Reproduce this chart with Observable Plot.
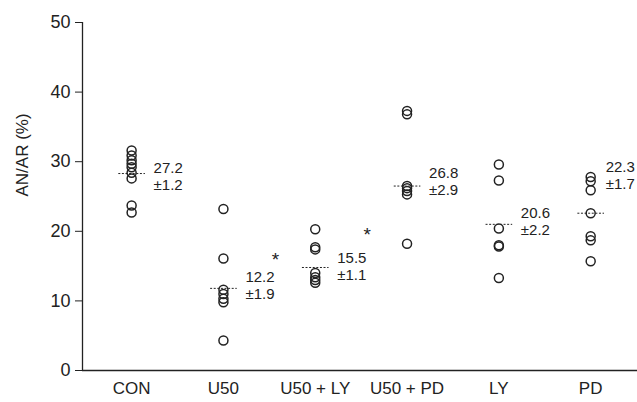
<!DOCTYPE html>
<html>
<head>
<meta charset="utf-8">
<script src="https://cdn.jsdelivr.net/npm/d3@7"></script>
<script src="https://cdn.jsdelivr.net/npm/@observablehq/plot@0.6"></script>
<style>
  html, body { margin: 0; padding: 0; background: #fff; }
  #chart svg { display: block; }
</style>
</head>
<body>
<div id="chart"></div>
<script>
// Groups (x-axis categories)
const categories = ["CON", "U50", "U50 + LY", "U50 + PD", "LY", "PD"];

// Individual AN/AR (%) values per group
const conValues   = [31.6, 30.9, 30.2, 29.7, 29.2, 28.4, 27.6, 23.7, 22.7];
const u50Values   = [23.2, 16.1, 11.6, 11.0, 10.3, 9.8, 4.3];
const u50lyValues = [20.3, 17.7, 17.4, 14.0, 13.4, 13.0, 12.6];
const u50pdValues = [37.3, 36.8, 26.5, 26.2, 25.8, 25.3, 18.2];
const lyValues    = [29.6, 27.3, 20.4, 18.0, 17.8, 13.3];
const pdValues    = [27.8, 27.2, 25.9, 22.6, 19.3, 18.7, 15.7];

// Dashed group line level (as drawn), reported mean and SEM
const lineLevels = [28.3, 11.8, 14.8, 26.5, 21.0, 22.6];
const means      = ["27.2", "12.2", "15.5", "26.8", "20.6", "22.3"];
const sems       = ["1.2", "1.9", "1.1", "2.9", "2.2", "1.7"];
// Value level at which each mean annotation sits
const labelLevels = [29.0, 13.4, 16.1, 28.4, 22.6, 29.2];

// Significance markers
const starGroups = ["U50", "U50 + LY"];
const starLevels = [15.9, 19.5];

const yTicks = [0, 10, 20, 30, 40, 50];

// ---- build tables ----
const groupValues = [conValues, u50Values, u50lyValues, u50pdValues, lyValues, pdValues];
const points = groupValues.flatMap((vals, i) => vals.map(v => ({i, v})));
const summary = categories.map((c, i) => ({
  i, line: lineLevels[i], mean: means[i], sem: "±" + sems[i], lab: labelLevels[i],
  near: c === "PD"
}));
const farLabels = summary.filter(d => !d.near);
const nearLabels = summary.filter(d => d.near);
const stars = starGroups.map((g, k) => ({i: categories.indexOf(g), v: starLevels[k]}));

const xDomain = [-0.535, 5.51];
const half = 0.145;
const font = "'Liberation Sans', Arial, sans-serif";

const labelMarks = (data, dx) => [
  Plot.text(data, {x: "i", y: "lab", text: "mean", textAnchor: "start", dx, fontSize: 15, fill: "#222"}),
  Plot.text(data, {x: "i", y: "lab", text: "sem", textAnchor: "start", dx, dy: 17, fontSize: 15, fill: "#222"})
];

const chart = Plot.plot({
  width: 637,
  height: 402,
  marginLeft: 82,
  marginRight: 0,
  marginTop: 22,
  marginBottom: 32,
  style: {fontFamily: font, color: "#222", background: "#fff"},
  x: {type: "linear", domain: xDomain},
  y: {domain: [0, 50]},
  marks: [
    Plot.axisY({
      ticks: yTicks, tickSize: 7, tickPadding: 5, fontSize: 18, label: null
    }),
    Plot.text(["AN/AR (%)"], {
      frameAnchor: "left", rotate: -90, dx: -60, fontSize: 17, fill: "#222"
    }),
    Plot.axisX({
      ticks: d3.range(categories.length), tickSize: 0, tickPadding: 11,
      tickFormat: i => categories[i], fontSize: 17, label: null
    }),
    Plot.ruleX([xDomain[0]], {stroke: "#222", strokeWidth: 1.3}),
    Plot.ruleY([0], {stroke: "#222", strokeWidth: 1.3}),
    Plot.link(summary, {
      x1: d => d.i - half, x2: d => d.i + half, y1: "line", y2: "line",
      stroke: "#222", strokeWidth: 1, strokeDasharray: "2,1.6"
    }),
    Plot.dot(points, {
      x: "i", y: "v", r: 4.5, stroke: "#222", strokeWidth: 1.5, fill: "none"
    }),
    ...labelMarks(farLabels, 22),
    ...labelMarks(nearLabels, 15),
    Plot.text(stars, {
      x: "i", y: "v", text: () => "*", dx: 52, fontSize: 19, fill: "#222"
    })
  ]
});

document.getElementById("chart").appendChild(chart);
</script>
</body>
</html>
